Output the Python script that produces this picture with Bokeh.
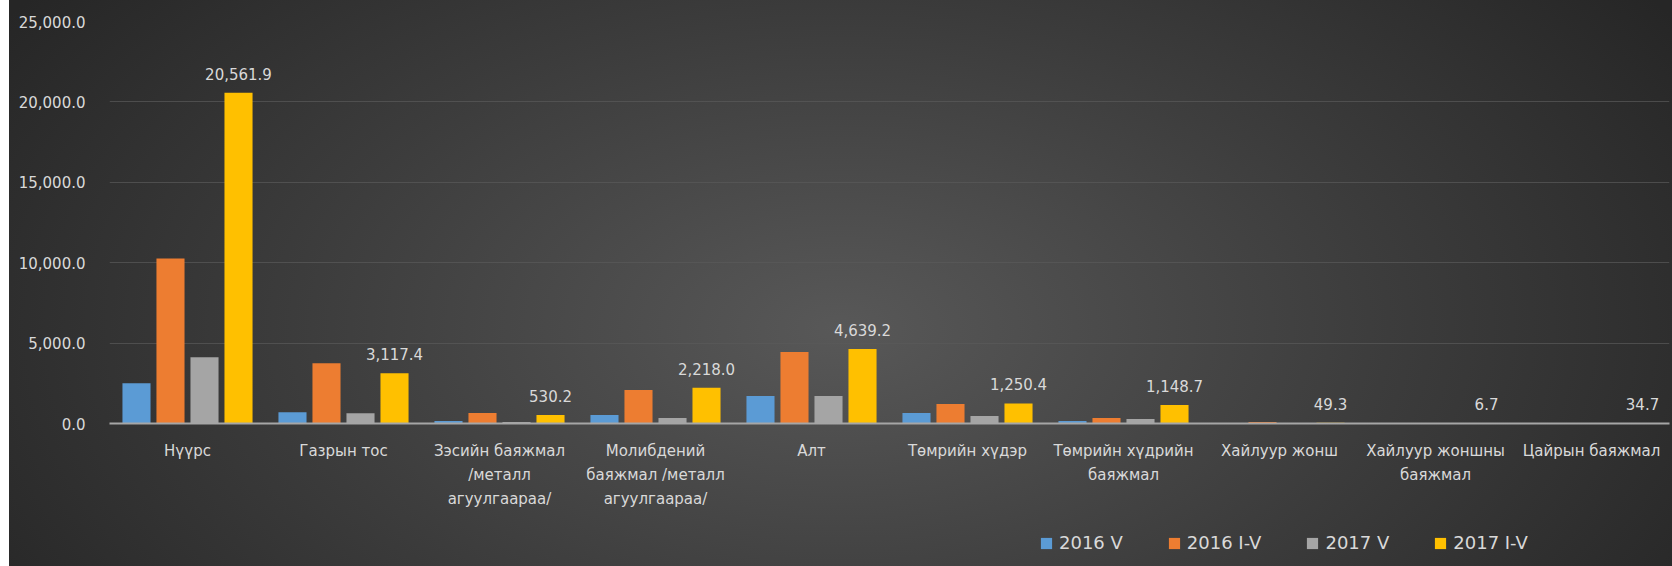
from bokeh.plotting import figure
from bokeh.layouts import column
from bokeh.models import (Range1d, FixedTicker, NumeralTickFormatter, Legend, LegendItem,
                          ColumnDataSource)
from bokeh.embed import file_html
from bokeh.resources import INLINE

categories = ["Нүүрс", "Газрын тос", "Зэсийн баяжмал /металл агуулгаараа/",
              "Молибдений баяжмал /металл агуулгаараа/", "Алт", "Төмрийн хүдэр",
              "Төмрийн хүдрийн баяжмал", "Хайлуур жонш", "Хайлуур жоншны баяжмал",
              "Цайрын баяжмал"]
tick_labels = ["Нүүрс", "Газрын тос", "Зэсийн баяжмал\n/металл\nагуулгаараа/",
               "Молибдений\nбаяжмал /металл\nагуулгаараа/", "Алт", "Төмрийн хүдэр",
               "Төмрийн хүдрийн\nбаяжмал", "Хайлуур жонш", "Хайлуур жоншны\nбаяжмал",
               "Цайрын баяжмал"]
series_names = ["2016 V", "2016 I-V", "2017 V", "2017 I-V"]
v2016_V = [2503, 702, 150, 530, 1710, 650, 155, 20, 5, 8]
v2016_IV = [10267, 3745, 650, 2080, 4440, 1210, 340, 100, 8, 10]
v2017_V = [4118, 640, 90, 340, 1710, 465, 280, 10, 3, 7]
v2017_IV = [20561.9, 3117.4, 530.2, 2218.0, 4639.2, 1250.4, 1148.7, 49.3, 6.7, 34.7]
y_ticks = [0, 5000, 10000, 15000, 20000, 25000]

colors = ["#5b9bd5", "#ed7d31", "#a5a5a5", "#ffc000"]
offsets = [-0.327, -0.109, 0.109, 0.327]
bar_w = 0.18
FONT = "DejaVu Sans"
TXT = "#d9d9d9"

n = len(categories)
centers = [i + 0.5 for i in range(n)]

p = figure(width=1663, height=520, output_backend="svg", toolbar_location=None,
           x_range=Range1d(0, n), y_range=Range1d(0, 25000),
           min_border_left=100, min_border_right=3, min_border_top=21, min_border_bottom=97)
p.background_fill_alpha = 0
p.border_fill_alpha = 0
p.outline_line_color = None

sources = []
for vals, col, off in zip([v2016_V, v2016_IV, v2017_V, v2017_IV], colors, offsets):
    src = ColumnDataSource(dict(x=[c + off for c in centers], top=vals))
    sources.append(src)
    p.vbar(x="x", top="top", width=bar_w, bottom=0, source=src,
           fill_color=col, line_color=None)

lab_src = ColumnDataSource(dict(x=[c + offsets[3] for c in centers], y=v2017_IV,
                                t=[f"{v:,.1f}" for v in v2017_IV]))
p.text(x="x", y="y", text="t", source=lab_src, text_align="center", text_baseline="middle",
       y_offset=-19, text_color=TXT, text_font_size="15px", text_font={"value": FONT})

# axes
p.xaxis.ticker = FixedTicker(ticks=centers)
p.xaxis.major_label_overrides = {c: t for c, t in zip(centers, tick_labels)}
p.xaxis.major_tick_line_color = None
p.xaxis.minor_tick_line_color = None
p.xaxis.axis_line_color = "#a6a6a6"
p.xaxis.axis_line_width = 2
p.xaxis.major_label_text_color = TXT
p.xaxis.major_label_text_font = FONT
p.xaxis.major_label_text_font_size = "15px"
p.xaxis.major_label_text_line_height = 1.36
p.xaxis.major_label_standoff = 12

p.yaxis.ticker = FixedTicker(ticks=y_ticks)
p.yaxis.formatter = NumeralTickFormatter(format="0,0.0")
p.yaxis.axis_line_color = None
p.yaxis.major_tick_line_color = None
p.yaxis.minor_tick_line_color = None
p.yaxis.major_label_text_color = TXT
p.yaxis.major_label_text_font = FONT
p.yaxis.major_label_text_font_size = "15px"
p.yaxis.major_label_standoff = 18

p.xgrid.grid_line_color = None
p.ygrid.ticker = FixedTicker(ticks=y_ticks)
p.ygrid.grid_line_color = "#5a5a5a"
p.ygrid.grid_line_alpha = 0.7

# legend strip below the chart (same series, renderers hidden, only legend shown)
pl = figure(width=1663, height=46, output_backend="svg", toolbar_location=None,
            x_range=Range1d(0, n), y_range=Range1d(0, 1),
            min_border_left=100, min_border_right=3, min_border_top=0, min_border_bottom=0)
pl.axis.visible = False
pl.grid.visible = False
pl.background_fill_alpha = 0
pl.border_fill_alpha = 0
pl.outline_line_color = None
leg_renderers = []
for src, col in zip(sources, colors):
    r = pl.vbar(x="x", top="top", width=bar_w, bottom=0, source=src,
                fill_color=col, line_color=None)
    r.visible = False
    leg_renderers.append(r)

legend = Legend(items=[LegendItem(label=nm, renderers=[r]) for nm, r in zip(series_names, leg_renderers)],
                orientation="horizontal", location=(930, 13),
                background_fill_alpha=0, border_line_color=None,
                label_text_color=TXT, label_text_font=FONT, label_text_font_size="18px",
                glyph_width=14, glyph_height=14, label_standoff=6, spacing=44,
                padding=0, margin=0, inactive_fill_alpha=0)
pl.add_layout(legend, "center")

layout = column(p, pl, spacing=0)
layout.margin = (0, 0, 0, 9)
layout.styles = {"background": "radial-gradient(ellipse 60% 100% at 50% 58%, #585858 0%, #3c3c3c 55%, #262626 100%)"}

open("out.html", "w").write(file_html(layout, INLINE))
